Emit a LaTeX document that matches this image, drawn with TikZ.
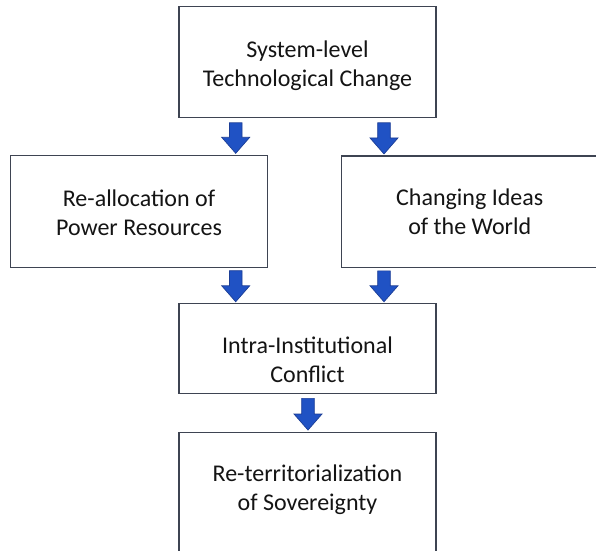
\documentclass[tikz,border=0pt]{standalone}
\usepackage{fontspec}
\setmainfont{Carlito}
\usetikzlibrary{calc}
\definecolor{frame}{RGB}{62,68,82}
\definecolor{flowfill}{RGB}{32,82,196}
\definecolor{flowedge}{RGB}{28,62,150}
\definecolor{ink}{RGB}{20,20,20}
\begin{document}
\begin{tikzpicture}[x=1pt,y=-1pt,
  box/.style={draw=frame, line width=1.2pt, fill=white, inner sep=0pt},
  % anchored at the baseline of the last line
  txt/.style={align=center, text=ink, font=\fontsize{24}{29}\selectfont, inner sep=0pt, anchor=base},
  % block arrow pointing down, drawn between two points on the same vertical
  flow/.style={fill=flowfill, draw=flowedge, line width=0.7pt, line join=miter,
    to path={let \p1=(\tikztostart), \p2=(\tikztotarget) in
      (\x1-6.3pt,\y1) -- (\x1+6.3pt,\y1) -- (\x1+6.3pt,\y2+16pt) -- (\x1+14pt,\y2+16pt)
      -- (\x1,\y2) -- (\x1-14pt,\y2+16pt) -- (\x1-6.3pt,\y2+16pt) -- cycle}},
]
\clip (0,0) rectangle (596,550);
\fill[white] (0,0) rectangle (596,550);

% boxes
\node[box, minimum width=257pt, minimum height=111.5pt] (sys) at (307.5,62) {};
\node[box, minimum width=257.4pt, minimum height=112pt] (res) at (139,211.3) {};
\node[box, minimum width=257.4pt, minimum height=111.5pt] (ideas) at (470.4,211.7) {};
\node[box, minimum width=257pt, minimum height=89.7pt] (conf) at (307.5,348.7) {};
\node[box, minimum width=257pt, minimum height=140pt] (sov) at (307.5,502.7) {};

% texts
\node[txt] (sysT) at (307.5,86) {System-level\\Technological Change};
\node[txt] (resT) at (139,235.3) {Re-allocation of\\Power Resources};
\node[txt] (ideasT) at (469.7,234.8) {Changing Ideas\\of the World};
\node[txt] (confT) at (307.5,382.3) {Intra-Institutional\\Conflict};
\node[txt] (sovT) at (307.5,510.3) {Re-territorialization\\of Sovereignty};

% arrow columns
\coordinate (c1) at (235.7,0);
\coordinate (c2) at (384,0);
\coordinate (c3) at (308,0);

% arrows
\draw[flow] ($(sys.south -| c1)+(0,4.4)$) to ($(res.north -| c1)+(0,-1.4)$);
\draw[flow] ($(sys.south -| c2)+(0,4.4)$) to ($(ideas.north -| c2)+(0,-1.4)$);
\draw[flow] ($(res.south -| c1)+(0,2.8)$) to ($(conf.north -| c1)+(0,-1.5)$);
\draw[flow] ($(ideas.south -| c2)+(0,2.8)$) to ($(conf.north -| c2)+(0,-1.5)$);
\draw[flow] ($(conf.south -| c3)+(0,4.2)$) to ($(sov.north -| c3)+(0,-2.1)$);
\end{tikzpicture}
\end{document}
